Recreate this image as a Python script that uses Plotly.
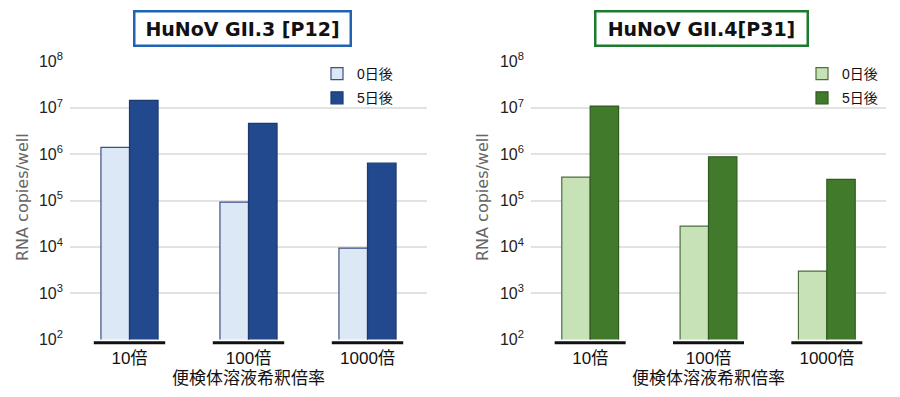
import plotly.graph_objects as go

categories = ["10倍", "100倍", "1000倍"]
series_names = ["0日後", "5日後"]
gii3_day0 = [1.4e6, 9.2e4, 9.4e3]
gii3_day5 = [1.45e7, 4.6e6, 6.4e5]
gii4_day0 = [3.2e5, 2.8e4, 3.0e3]
gii4_day5 = [1.09e7, 8.8e5, 2.86e5]
panel_titles = ["HuNoV GII.3 [P12]", "HuNoV GII.4[P31]"]
ytick_vals = [1e2, 1e3, 1e4, 1e5, 1e6, 1e7, 1e8]
ytick_text = ["10<sup>%d</sup>" % e for e in range(2, 9)]
y_title = "RNA copies/well"
x_title = "便検体溶液希釈倍率"

JP = "Liberation Sans, Noto Sans CJK JP, sans-serif"
fig = go.Figure()

styles = [
    dict(c0="#dce8f5", l0="#3d4f86", c5="#22488e", l5="#1c3a70", legend="legend", xa="x", ya="y"),
    dict(c0="#c6e2b6", l0="#4d6f3c", c5="#417a2b", l5="#2e5a1f", legend="legend2", xa="x2", ya="y2"),
]
data = [(gii3_day0, gii3_day5), (gii4_day0, gii4_day5)]

for p, (d0, d5) in enumerate(data):
    s = styles[p]
    fig.add_trace(go.Bar(x=categories, y=d0, name=series_names[0], xaxis=s["xa"], yaxis=s["ya"],
                         marker=dict(color=s["c0"], line=dict(color=s["l0"], width=1.2)),
                         legend=s["legend"], legendgroup="p%d_0" % p))
    fig.add_trace(go.Bar(x=categories, y=d5, name=series_names[1], xaxis=s["xa"], yaxis=s["ya"],
                         marker=dict(color=s["c5"], line=dict(color=s["l5"], width=1.2)),
                         legend=s["legend"], legendgroup="p%d_5" % p))

# page body adds an 8px offset; figure is sized to fit the 900x397 window
OFF = 8
W = 900.0 - OFF
H = 397.0 - OFF


def fx(px):
    return (px - OFF) / W


def fy(py):
    return 1 - (py - OFF) / H


ydom = [fy(339.5), fy(61.5)]
xdoms = [[fx(70), fx(427)], [fx(531), fx(886)]]

yax = dict(type="log", range=[2, 8], tickvals=ytick_vals, ticktext=ytick_text,
           showgrid=True, gridcolor="#e2e2e2", gridwidth=2, zeroline=False,
           showline=False, ticks="", tickfont=dict(family="Liberation Sans, sans-serif", size=16, color="#222"),
           domain=ydom, ticklabelstandoff=6)
xax = dict(showgrid=False, showline=False, ticks="", zeroline=False,
           tickfont=dict(family=JP, size=17, color="#111"),
           title=dict(text=x_title, font=dict(family=JP, size=17, color="#111"), standoff=5),
           ticklabelstandoff=6)

legend_common = dict(yanchor="top", xanchor="left", y=fy(58),
                     font=dict(family=JP, size=14, color="#111"), bgcolor="rgba(0,0,0,0)",
                     itemwidth=30, tracegroupgap=3)

fig.update_layout(
    width=int(W), height=int(H), margin=dict(l=0, r=0, t=0, b=0, autoexpand=False),
    paper_bgcolor="white", plot_bgcolor="white",
    barmode="group", bargap=0.52, bargroupgap=0,
    xaxis=dict(xax, domain=xdoms[0], anchor="y"),
    yaxis=dict(yax, anchor="x"),
    xaxis2=dict(xax, domain=xdoms[1], anchor="y2"),
    yaxis2=dict(yax, anchor="x2"),
    legend=dict(legend_common, x=fx(317)),
    legend2=dict(legend_common, x=fx(802)),
    showlegend=True,
)

# underline segments beneath each category
shapes = []
for p in range(2):
    xa = "x" if p == 0 else "x2"
    ya = "y" if p == 0 else "y2"
    for i in range(len(categories)):
        shapes.append(dict(type="line", xref=xa, yref=ya + " domain", x0=i - 0.3, x1=i + 0.3,
                           y0=-0.012, y1=-0.012, line=dict(color="#111", width=3)))
fig.update_layout(shapes=shapes)

border_colors = ["#1f63b5", "#1e7a2e"]
centers = [243, 701]
widths = [206, 202]
ann = []
for p in range(2):
    ann.append(dict(text="<b>%s</b>" % panel_titles[p], xref="paper", yref="paper",
                    x=fx(centers[p]), y=fy(28.5), xanchor="center", yanchor="middle", showarrow=False,
                    width=widths[p], height=24,
                    font=dict(family="DejaVu Sans, Verdana, sans-serif", size=19, color="#111"),
                    bordercolor=border_colors[p], borderwidth=2.5, borderpad=4, bgcolor="white"))
    ann.append(dict(text=y_title, xref="paper", yref="paper",
                    x=fx(22 if p == 0 else 482), y=fy(197), xanchor="center", yanchor="middle",
                    textangle=-90, showarrow=False,
                    font=dict(family="DejaVu Sans, sans-serif", size=16, color="#666")))
fig.update_layout(annotations=ann)

fig.write_html("out.html")
